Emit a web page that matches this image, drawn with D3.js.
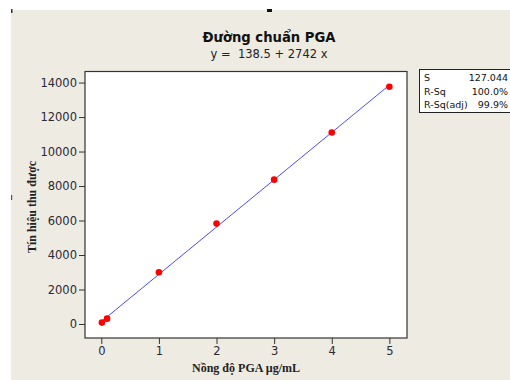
<!DOCTYPE html>
<html>
<head>
<meta charset="utf-8">
<script src="https://cdn.jsdelivr.net/npm/d3@7"></script>
<style>
    body { margin: 0; background: #fff; }
    svg { display: block; }
    .tick text { font-family: Tahoma, "DejaVu Sans", sans-serif; }
</style>
</head>
<body>
<div id="chart"></div>
<script>
// calibration data
let concentrations = [0.01, 0.1, 1, 2, 3, 4, 5];
let signals = [80, 310, 3000, 5820, 8370, 11100, 13760];
let intercept = 138.5;
let slope = 2742;
let yTicks = [0, 2000, 4000, 6000, 8000, 10000, 12000, 14000];
let xTicks = [0, 1, 2, 3, 4, 5];
let statNames = ["S", "R-Sq", "R-Sq(adj)"];
let statValues = ["127.044", "100.0%", "99.9%"];

function drawChart() {
    let width = 510;
    let height = 380;

    let svg = d3.select("#chart")
        .append("svg")
        .attr("width", width)
        .attr("height", height);

    // beige panel, white strip on top and left
    svg.append("rect")
        .attr("x", 11).attr("y", 10)
        .attr("width", width - 11).attr("height", height - 10)
        .attr("fill", "#eeebe2");

    svg.append("rect").attr("x", 11).attr("y", 9).attr("width", 1.5).attr("height", 4).attr("fill", "#333");
    svg.append("rect").attr("x", 11).attr("y", 195).attr("width", 1.2).attr("height", 5).attr("fill", "#555");
    svg.append("rect").attr("x", 267).attr("y", 9).attr("width", 5).attr("height", 3).attr("fill", "#111");

    let plot = { left: 85, top: 71.5, right: 407, bottom: 338 };

    let x = d3.scaleLinear()
        .domain([-0.283, 5.306])
        .range([plot.left, plot.right]);

    let y = d3.scaleLinear()
        .domain([-812, 14640])
        .range([plot.bottom, plot.top]);

    svg.append("rect")
        .attr("x", plot.left).attr("y", plot.top)
        .attr("width", plot.right - plot.left)
        .attr("height", plot.bottom - plot.top)
        .attr("fill", "white")
        .attr("stroke", "#333")
        .attr("stroke-width", 1.2);

    let yAxis = svg.append("g")
        .attr("transform", "translate(" + plot.left + ",0)")
        .call(d3.axisLeft(y).tickValues(yTicks).tickSize(6).tickPadding(2).tickFormat(d3.format("d")));

    let xAxis = svg.append("g")
        .attr("transform", "translate(0," + plot.bottom + ")")
        .call(d3.axisBottom(x).tickValues(xTicks).tickSize(6).tickPadding(3).tickFormat(d3.format("d")));

    [xAxis, yAxis].forEach(function (ax) {
        ax.select(".domain").remove();
        ax.selectAll(".tick line").attr("stroke", "#333");
        ax.selectAll(".tick text")
            .attr("fill", "#2a2a35")
            .style("font-size", "11.5px");
    });

    // fitted line
    let xMin = d3.min(concentrations);
    let xMax = d3.max(concentrations);
    svg.append("line")
        .attr("x1", x(xMin)).attr("y1", y(intercept + slope * xMin))
        .attr("x2", x(xMax)).attr("y2", y(intercept + slope * xMax))
        .attr("stroke", "#4a4aff")
        .attr("stroke-width", 1);

    svg.selectAll("circle.pt")
        .data(concentrations)
        .enter()
        .append("circle")
        .attr("class", "pt")
        .attr("cx", (d) => x(d))
        .attr("cy", (d, i) => y(signals[i]))
        .attr("r", 3.3)
        .attr("fill", "#ff0000");

    // titles
    svg.append("text")
        .text("Đường chuẩn PGA")
        .attr("x", 269).attr("y", 42)
        .attr("text-anchor", "middle")
        .style("font-family", "Tahoma, 'DejaVu Sans', sans-serif")
        .style("font-weight", "bold")
        .style("font-size", "13.2px")
        .attr("fill", "#111");

    svg.append("text")
        .text("y =  " + intercept + " + " + slope + " x")
        .attr("x", 269).attr("y", 58)
        .attr("text-anchor", "middle")
        .attr("xml:space", "preserve")
        .style("white-space", "pre")
        .style("font-family", "Tahoma, 'DejaVu Sans', sans-serif")
        .style("font-size", "11.5px")
        .attr("fill", "#222");

    svg.append("text")
        .text("Nồng độ PGA µg/mL")
        .attr("x", 246).attr("y", 372)
        .attr("text-anchor", "middle")
        .style("font-family", "'Liberation Serif', 'Times New Roman', serif")
        .style("font-weight", "bold")
        .style("font-size", "12px")
        .attr("fill", "#222");

    svg.append("text")
        .text("Tín hiệu thu được")
        .attr("transform", "translate(36,207) rotate(-90)")
        .attr("text-anchor", "middle")
        .style("font-family", "'Liberation Serif', 'Times New Roman', serif")
        .style("font-weight", "bold")
        .style("font-size", "12px")
        .attr("fill", "#222");

    // stats box, runs off the right edge as in the original
    let box = svg.append("g");
    box.append("rect")
        .attr("x", 419.5).attr("y", 69.5)
        .attr("width", 100).attr("height", 43)
        .attr("fill", "white")
        .attr("stroke", "#222");

    statNames.forEach(function (name, i) {
        box.append("text")
            .text(name)
            .attr("x", 424).attr("y", 81 + i * 13.5)
            .style("font-family", "Tahoma, 'DejaVu Sans', sans-serif")
            .style("font-size", "9.5px")
            .attr("fill", "#111");
        box.append("text")
            .text(statValues[i])
            .attr("x", 508).attr("y", 81 + i * 13.5)
            .attr("text-anchor", "end")
            .style("font-family", "Tahoma, 'DejaVu Sans', sans-serif")
            .style("font-size", "9.5px")
            .attr("fill", "#111");
    });
}

drawChart();
</script>
</body>
</html>
